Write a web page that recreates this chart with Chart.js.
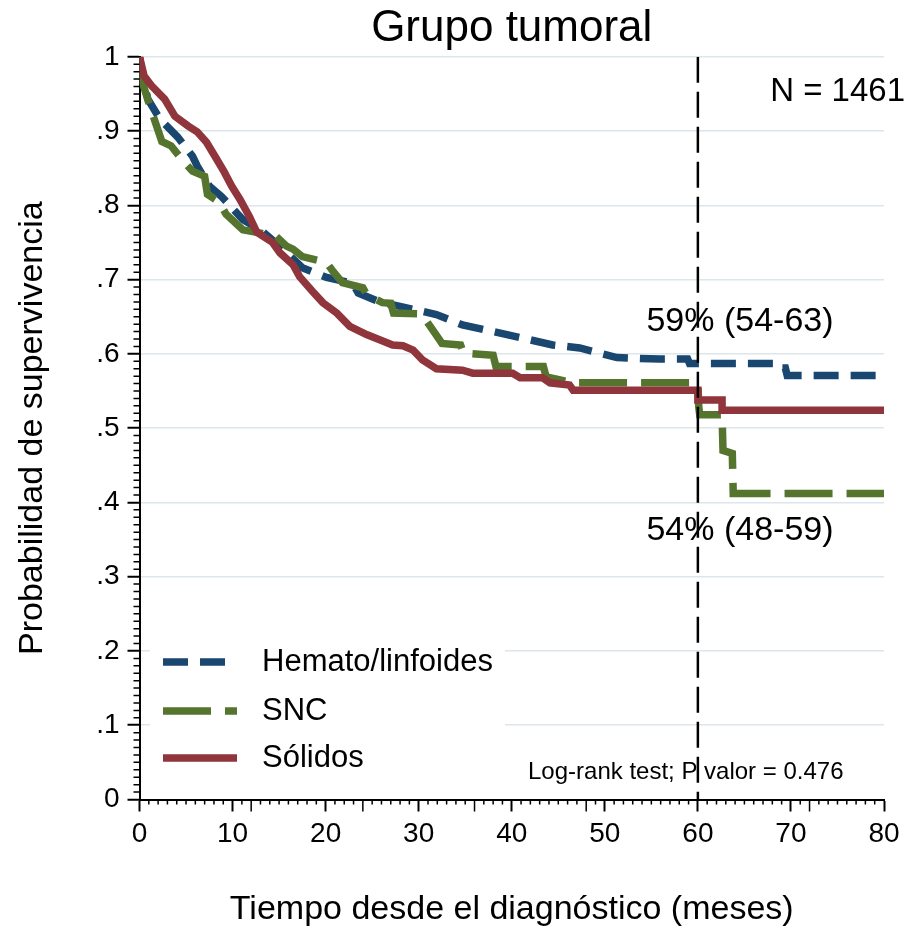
<!DOCTYPE html>
<html>
<head>
<meta charset="utf-8">
<title>Grupo tumoral</title>
<script src="https://cdn.jsdelivr.net/npm/chart.js@4.4.1/dist/chart.umd.min.js"></script>
<style>
  html, body { margin: 0; padding: 0; background: #fff; }
</style>
</head>
<body>
<canvas id="chart" width="907" height="930"></canvas>
<script>
// Kaplan-Meier curves (months, survival).
// The many small steps look like slopes, so the vertices follow what is seen;
// the larger visible steps get two vertices at the same month.
const hematoT = [0, 0.3, 0.9, 2.2, 4.1, 5.7, 6.2, 7.5, 8.8, 9.7, 11.1, 13.2, 15.5, 17.5, 20.1, 22.9, 23.5, 25.8, 28.7, 31.9, 34.7, 38.0, 40.9, 44.4, 47.3, 51.3, 55.9, 58.9, 59.1, 68.6, 68.9, 69.4, 69.6, 80];
const hematoS = [1, 0.975, 0.943, 0.916, 0.892, 0.866, 0.853, 0.826, 0.812, 0.80, 0.781, 0.765, 0.74, 0.716, 0.703, 0.695, 0.682, 0.67, 0.662, 0.653, 0.639, 0.63, 0.622, 0.612, 0.608, 0.595, 0.593, 0.593, 0.587, 0.587, 0.581, 0.581, 0.571, 0.571];

const sncT = [0, 0.3, 1.1, 2.4, 3.4, 4.8, 5.7, 7.0, 7.3, 8.6, 9.3, 11.1, 12.9, 14.7, 15.8, 16.5, 17.5, 20.1, 20.8, 21.8, 24.0, 24.4, 26.1, 27.0, 27.3, 29.9, 30.5, 31.3, 32.5, 34.5, 34.8, 38.0, 38.3, 43.4, 43.7, 45.2, 46.6, 60.0, 60.1, 60.2, 62.6, 62.7, 63.7, 63.8, 80];
const sncS = [1, 0.966, 0.934, 0.886, 0.88, 0.858, 0.846, 0.839, 0.815, 0.804, 0.788, 0.767, 0.763, 0.758, 0.745, 0.741, 0.731, 0.723, 0.711, 0.696, 0.689, 0.68, 0.669, 0.668, 0.655, 0.654, 0.65, 0.636, 0.614, 0.612, 0.601, 0.598, 0.583, 0.583, 0.569, 0.565, 0.561, 0.561, 0.528, 0.518, 0.518, 0.47, 0.466, 0.412, 0.412];

const solidosT = [0, 0.5, 1.3, 2.7, 3.8, 5.2, 6.2, 7.2, 8.3, 9.1, 9.9, 10.8, 11.8, 12.6, 14.3, 15.1, 16.5, 17.2, 18.6, 19.7, 21.2, 22.6, 24.4, 25.8, 27.2, 28.3, 29.4, 30.4, 31.9, 34.7, 35.8, 40.1, 40.9, 43.3, 44.1, 46.2, 46.6, 60.0, 60.0, 62.6, 62.6, 80];
const solidosS = [1, 0.974, 0.961, 0.943, 0.92, 0.907, 0.899, 0.885, 0.862, 0.845, 0.826, 0.808, 0.785, 0.764, 0.75, 0.736, 0.72, 0.704, 0.684, 0.669, 0.655, 0.637, 0.626, 0.619, 0.612, 0.611, 0.605, 0.592, 0.58, 0.578, 0.574, 0.574, 0.568, 0.568, 0.561, 0.558, 0.551, 0.551, 0.538, 0.538, 0.524, 0.524];

// reference line at 60 months
const refT = [60, 60];
const refS = [1, 0];

const xTickStep = 10;
const yTickStep = 0.1;

function pts(t, s) {
  return t.map((v, i) => ({ x: v, y: s[i] }));
}

Chart.defaults.font.family = "'Liberation Sans', Arial, Helvetica, sans-serif";
Chart.defaults.color = "#000";

// small ticks every month / every .01, plus longer ticks at each year
const minorTicks = {
  id: "minorTicks",
  afterDraw(chart) {
    const { ctx, chartArea } = chart;
    const x = chart.scales.x, y = chart.scales.y;
    ctx.save();
    ctx.strokeStyle = "#000";
    ctx.lineWidth = 1.5;
    ctx.beginPath();
    for (let i = 1; i < 100; i++) {
      if (i % 10 === 0) continue;
      const py = y.getPixelForValue(i / 100);
      ctx.moveTo(chartArea.left, py);
      ctx.lineTo(chartArea.left - 6, py);
    }
    for (let m = 1; m < 80; m++) {
      if (m % 10 === 0) continue;
      const px = x.getPixelForValue(m);
      const len = m % 12 === 0 ? 12 : 5;
      ctx.moveTo(px, chartArea.bottom);
      ctx.lineTo(px, chartArea.bottom + len);
    }
    ctx.stroke();
    ctx.restore();
  }
};

// legend inside the plot plus the text notes
const notes = {
  id: "notes",
  afterDatasetsDraw(chart) {
    const ctx = chart.ctx;
    ctx.save();
    ctx.fillStyle = "#fff";
    ctx.fillRect(150, 630, 355, 155);

    const rows = [
      { label: "Hemato/linfoides", y: 662 },
      { label: "SNC", y: 711 },
      { label: "Sólidos", y: 758 }
    ];
    rows.forEach(r => {
      const ds = chart.data.datasets.find(d => d.label === r.label);
      ctx.strokeStyle = ds.borderColor;
      ctx.lineWidth = ds.borderWidth;
      ctx.lineCap = "butt";
      ctx.setLineDash(ds.borderDash || []);
      ctx.beginPath();
      ctx.moveTo(163, r.y);
      ctx.lineTo(237, r.y);
      ctx.stroke();
      ctx.setLineDash([]);
      ctx.fillStyle = "#000";
      ctx.font = "31px 'Liberation Sans', Arial, sans-serif";
      ctx.textBaseline = "middle";
      ctx.textAlign = "left";
      ctx.fillText(r.label, 262, r.y);
    });

    ctx.fillStyle = "#000";
    ctx.textBaseline = "middle";
    ctx.font = "33px 'Liberation Sans', Arial, sans-serif";
    ctx.textAlign = "right";
    ctx.fillText("N = 1461", 905, 92);
    ctx.font = "34px 'Liberation Sans', Arial, sans-serif";
    ctx.textAlign = "center";
    ctx.fillText("59% (54-63)", 740, 322);
    ctx.fillText("54% (48-59)", 740, 531);
    ctx.font = "24px 'Liberation Sans', Arial, sans-serif";
    ctx.textAlign = "left";
    ctx.fillText("Log-rank test; P valor = 0.476", 528, 772);
    ctx.restore();
  }
};

const ctx = document.getElementById("chart").getContext("2d");
new Chart(ctx, {
  type: "line",
  data: {
    datasets: [
      { label: "ref", data: pts(refT, refS), borderColor: "#000", borderWidth: 2.5, borderDash: [26, 9], pointRadius: 0 },
      { label: "Sólidos", data: pts(solidosT, solidosS), borderColor: "#90353b", borderWidth: 7.5, pointRadius: 0 },
      { label: "SNC", data: pts(sncT, sncS), borderColor: "#55752f", borderWidth: 7.5, borderDash: [48, 14], pointRadius: 0 },
      { label: "Hemato/linfoides", data: pts(hematoT, hematoS), borderColor: "#1a476f", borderWidth: 7.5, borderDash: [25, 12], pointRadius: 0 }
    ]
  },
  options: {
    responsive: false,
    animation: false,
    layout: { padding: { left: 0, right: 23, top: 0, bottom: 0 } },
    elements: { line: { borderCapStyle: "butt", borderJoinStyle: "miter", fill: false, tension: 0 } },
    scales: {
      x: {
        type: "linear",
        min: 0,
        max: 80,
        ticks: { stepSize: xTickStep, autoSkip: false, maxRotation: 0, padding: 6, font: { size: 28 } },
        grid: { drawOnChartArea: false, drawTicks: true, tickLength: 12, tickColor: "#000", tickWidth: 2 },
        border: { display: true, color: "#000", width: 2 },
        title: { display: true, text: "Tiempo desde el diagnóstico (meses)", font: { size: 34 }, padding: { top: 0, bottom: 0 } },
        afterFit(scale) { scale.height = 130.5; }
      },
      y: {
        min: 0,
        max: 1,
        ticks: {
          stepSize: yTickStep,
          padding: 8,
          font: { size: 28 },
          callback: v => (v === 0 ? "0" : v === 1 ? "1" : v.toFixed(1).replace("0.", "."))
        },
        grid: { color: "#dde6ea", lineWidth: 1.5, tickLength: 12, tickColor: "#000", tickWidth: 2 },
        border: { display: true, color: "#000", width: 2 },
        title: { display: true, text: "Probabilidad de supervivencia", font: { size: 34 }, padding: { top: 12, bottom: 0 } },
        afterFit(scale) { scale.width = 139.5; }
      }
    },
    plugins: {
      legend: { display: false },
      tooltip: { enabled: false },
      title: {
        display: true,
        text: "Grupo tumoral",
        fullSize: false,
        font: { size: 44, weight: "normal" },
        color: "#000",
        padding: { top: 2, bottom: 2 }
      }
    }
  },
  plugins: [minorTicks, notes]
});
</script>
</body>
</html>
